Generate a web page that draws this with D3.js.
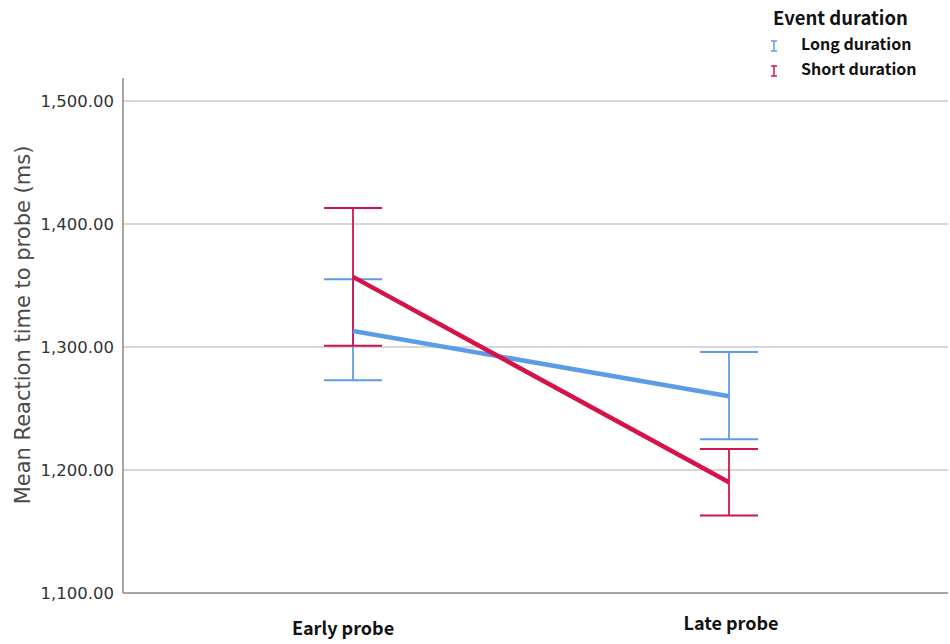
<!DOCTYPE html>
<html>
<head>
<meta charset="utf-8">
<script src="https://cdn.jsdelivr.net/npm/d3@7"></script>
<style>
  html, body { margin: 0; padding: 0; background: #fff; }
  svg { display: block; }
</style>
</head>
<body>
<svg id="chart" width="950" height="644"></svg>
<script>
// Probe timing conditions on the x axis
const categories = ["Early probe", "Late probe"];
// Series: event duration groups
const seriesNames = ["Long duration", "Short duration"];
const seriesColors = ["#5c9ce6", "#d5124a"];
// Mean reaction times (ms) per series, per category
const longMeans = [1313, 1260];
const shortMeans = [1357, 1190];
// Error bar bounds (ms)
const longLower = [1273, 1225];
const longUpper = [1355, 1296];
const shortLower = [1301, 1163];
const shortUpper = [1413, 1217];
// Y axis ticks
const yTicks = [1100, 1200, 1300, 1400, 1500];

const svg = d3.select("#chart");
const plot = { left: 123, right: 948, top: 78, bottom: 593 };

const y = d3.scaleLinear().domain([1100, 1500]).range([593, 101]);
const x = d3.scalePoint().domain(categories).range([353, 729]);

const series = [
  { name: seriesNames[0], color: seriesColors[0], mean: longMeans, lo: longLower, hi: longUpper },
  { name: seriesNames[1], color: seriesColors[1], mean: shortMeans, lo: shortLower, hi: shortUpper }
];

// Gridlines
svg.append("g").selectAll("line").data(yTicks.filter(t => t > 1100)).join("line")
  .attr("x1", plot.left).attr("x2", plot.right)
  .attr("y1", d => y(d)).attr("y2", d => y(d))
  .attr("stroke", "#c8c8c8").attr("stroke-width", 1.5);

// Y axis
const yAxis = d3.axisLeft(y).tickValues(yTicks).tickSize(0).tickPadding(9)
  .tickFormat(d3.format(",.2f"));
const gy = svg.append("g").attr("transform", `translate(${plot.left},0)`).call(yAxis);
gy.select(".domain").remove();
gy.selectAll("text")
  .attr("font-family", "DejaVu Sans, sans-serif")
  .attr("font-size", 16.5).attr("fill", "#333");

// Axis lines
svg.append("line").attr("x1", plot.left).attr("x2", plot.left)
  .attr("y1", plot.top).attr("y2", plot.bottom)
  .attr("stroke", "#888").attr("stroke-width", 1.5);
svg.append("line").attr("x1", plot.left).attr("x2", plot.right)
  .attr("y1", plot.bottom).attr("y2", plot.bottom)
  .attr("stroke", "#888").attr("stroke-width", 1.5);

// X category labels
const xLabelY = [635, 630];
svg.append("g").selectAll("text").data(categories).join("text")
  .attr("x", (d, i) => x(d) + (i === 0 ? -10 : 2))
  .attr("y", (d, i) => xLabelY[i])
  .attr("text-anchor", "middle")
  .attr("font-family", "Noto Sans CJK SC, Noto Sans, sans-serif")
  .attr("font-weight", 700).attr("font-size", 18).attr("fill", "#111")
  .text(d => d);

// Y axis title
svg.append("text")
  .attr("transform", `translate(30,${(148 + 502) / 2}) rotate(-90)`)
  .attr("text-anchor", "middle")
  .attr("font-family", "DejaVu Sans, sans-serif")
  .attr("font-size", 21).attr("fill", "#4a4a4a")
  .text("Mean Reaction time to probe (ms)");

const capHalf = 29;

// Error bars
series.forEach(s => {
  const g = svg.append("g");
  categories.forEach((c, i) => {
    const cx = x(c);
    g.append("line").attr("x1", cx).attr("x2", cx)
      .attr("y1", y(s.lo[i])).attr("y2", y(s.hi[i]))
      .attr("stroke", s.color).attr("stroke-width", 1.8);
    [s.lo[i], s.hi[i]].forEach(v => {
      g.append("line").attr("x1", cx - capHalf).attr("x2", cx + capHalf)
        .attr("y1", y(v)).attr("y2", y(v))
        .attr("stroke", s.color).attr("stroke-width", 2);
    });
  });
});

// Mean lines
const line = d3.line().x((d, i) => x(categories[i])).y(d => y(d));
series.forEach(s => {
  svg.append("path").datum(s.mean)
    .attr("d", line)
    .attr("fill", "none").attr("stroke", s.color)
    .attr("stroke-width", 4.5);
});

// Legend
svg.append("text").attr("x", 773).attr("y", 25)
  .attr("font-family", "Noto Sans CJK SC, Noto Sans, sans-serif")
  .attr("font-weight", 700).attr("font-size", 18.5).attr("fill", "#111")
  .text("Event duration");
series.forEach((s, i) => {
  const cy = 46 + i * 25;
  const g = svg.append("g");
  g.append("line").attr("x1", 774).attr("x2", 774).attr("y1", cy - 5).attr("y2", cy + 5)
    .attr("stroke", s.color).attr("stroke-width", 1.5);
  [cy - 5, cy + 5].forEach(yy => g.append("line")
    .attr("x1", 771).attr("x2", 777).attr("y1", yy).attr("y2", yy)
    .attr("stroke", s.color).attr("stroke-width", 1.5));
  svg.append("text").attr("x", 801).attr("y", cy + 4)
    .attr("font-family", "Noto Sans CJK SC, Noto Sans, sans-serif")
    .attr("font-weight", 700).attr("font-size", 16).attr("fill", "#111")
    .text(s.name);
});
</script>
</body>
</html>
